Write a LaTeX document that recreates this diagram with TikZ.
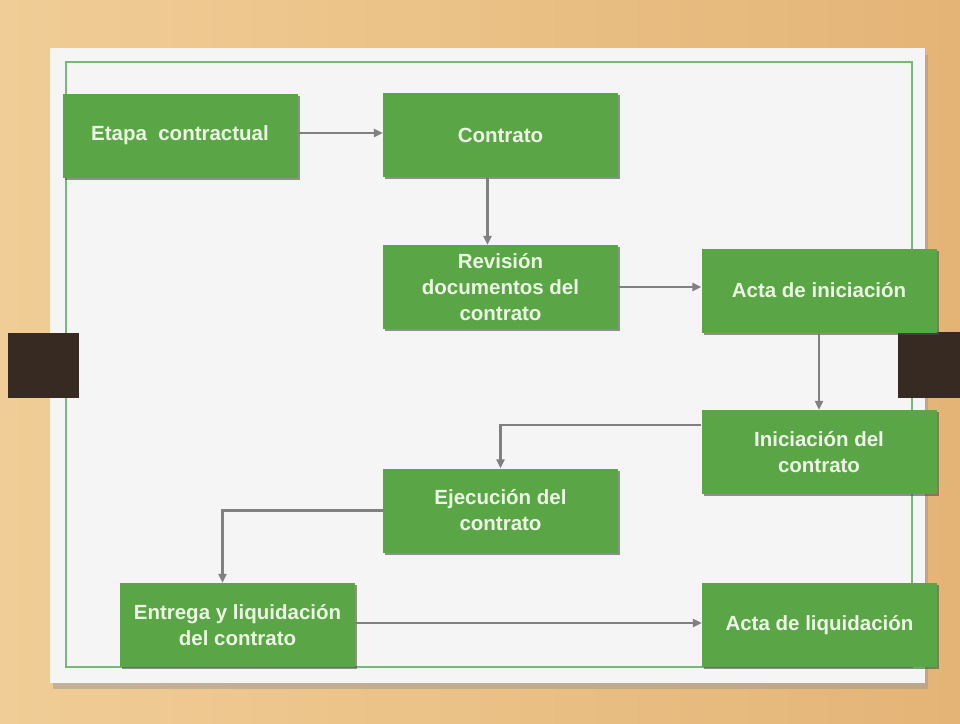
\documentclass[tikz,border=0pt]{standalone}
\usepackage{fontspec}
\setmainfont{Liberation Sans}
\usepackage{tikz}
\usetikzlibrary{arrows.meta,positioning,calc,shadows}

\definecolor{wood}{RGB}{228,180,118}
\definecolor{woodlight}{RGB}{240,205,150}
\definecolor{paper}{RGB}{245,245,245}
\definecolor{boxgreen}{RGB}{90,166,70}
\definecolor{framegreen}{RGB}{120,185,120}
\definecolor{clipbrown}{RGB}{55,42,34}
\definecolor{boxtext}{RGB}{236,246,228}

\tikzset{
  box/.style={fill=boxgreen, text=boxtext, minimum width=235pt, minimum height=84pt,
    align=center, font=\fontsize{20.5}{26}\selectfont\bfseries, inner sep=0pt,
    drop shadow={shadow xshift=2pt, shadow yshift=-2pt, fill=black!70, opacity=0.6}},
  arr/.style={draw=black!50, line width=2.2pt, -{Triangle[length=9pt,width=8pt]}}
}

\begin{document}
\begin{tikzpicture}[x=1pt,y=-1pt]
\useasboundingbox (0,0) rectangle (960,723);
\shade[left color=woodlight, right color=wood] (0,0) rectangle (960,723);
\fill[black!40, opacity=0.5] (53,55) rectangle (928,689);
\fill[paper] (50,48) rectangle (925,683);
\draw[framegreen, line width=2pt] (66,62) rectangle (912,667);
\fill[clipbrown] (8,333) rectangle (79,398);
\fill[clipbrown] (898,332) rectangle (960,398);

\draw (180,135.5) node[box] (etapa) {Etapa\ \ contractual};
\draw (500.5,135) node[box] (contrato) {Contrato};
\draw (500.5,287) node[box] (revision) {Revisión\\documentos del\\contrato};
\draw (819,290.5) node[box] (actaini) {Acta de iniciación};
\draw (819,452) node[box] (iniciacion) {Iniciación del\\contrato};
\draw (500.5,510.5) node[box] (ejecucion) {Ejecución del\\contrato};
\draw (237.5,625) node[box] (entrega) {Entrega y liquidación\\del contrato};
\draw (819.5,625) node[box] (actaliq) {Acta de liquidación};

\path[arr] ([yshift=2.5pt]etapa.east) -- ([yshift=2.5pt]etapa.east -| contrato.west);
\path[arr] ([xshift=-13pt]contrato.south) -- ([xshift=-13pt]revision.north);
\path[arr] (revision.east) -- (revision.east -| actaini.west);
\path[arr] (actaini.south) -- (iniciacion.north);
\path[arr] ([yshift=27pt]iniciacion.west) -| (ejecucion.north);
\path[arr] (ejecucion.west) -| ([xshift=-15pt]entrega.north);
\path[arr] ([yshift=2pt]entrega.east) -- ([yshift=2pt]actaliq.west);

\end{tikzpicture}
\end{document}
